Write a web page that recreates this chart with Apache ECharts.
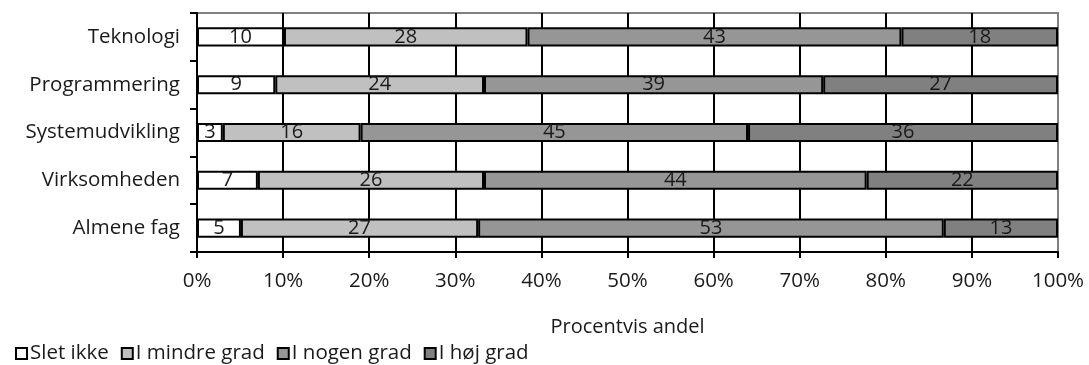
<!DOCTYPE html>
<html>
<head>
<meta charset="utf-8">
<script src="https://cdn.jsdelivr.net/npm/echarts@6/dist/echarts.min.js"></script>
<style>
  html, body { margin: 0; padding: 0; background: #fff; }
  #chart { width: 1089px; height: 365px; }
</style>
</head>
<body>
<div id="chart"></div>
<script>
// Survey answers per subject area (counts in percent, as reported)
const categories = ['Teknologi', 'Programmering', 'Systemudvikling', 'Virksomheden', 'Almene fag'];
const sletIkke     = [10, 9, 3, 7, 5];
const iMindreGrad  = [28, 24, 16, 26, 27];
const iNogenGrad   = [43, 39, 45, 44, 53];
const iHoejGrad    = [18, 27, 36, 22, 13];
const seriesNames  = ['Slet ikke', 'I mindre grad', 'I nogen grad', 'I høj grad'];
const seriesColors = ['#ffffff', '#c0c0c0', '#969696', '#808080'];
const xTicks = [0, 10, 20, 30, 40, 50, 60, 70, 80, 90, 100];

const raw = [sletIkke, iMindreGrad, iNogenGrad, iHoejGrad];
// 100% stacked: each row is scaled to its own total
const totals = categories.map((_, i) => raw.reduce((s, arr) => s + arr[i], 0));

const FONT = '"Open Sans", "DejaVu Sans", sans-serif';
const TEXT = '#1a1a1a';

const splitColors = xTicks.map((t, i) => (i === xTicks.length - 1 ? '#808080' : '#000000'));

const chart = echarts.init(document.getElementById('chart'), null, { renderer: 'canvas' });
chart.setOption({
  animation: false,
  backgroundColor: '#fff',
  textStyle: { fontFamily: FONT },
  grid: {
    left: 197, right: 31, top: 13, bottom: 113,
    show: true, borderColor: '#808080', borderWidth: 2, backgroundColor: '#fff'
  },
  legend: {
    left: 10, top: 338,
    itemWidth: 11, itemHeight: 11, itemGap: 12,
    icon: 'rect',
    textStyle: { fontFamily: FONT, fontSize: 20.5, color: TEXT, padding: [0, 0, 0, -2] },
    itemStyle: { borderColor: '#000', borderWidth: 2 },
    data: seriesNames
  },
  xAxis: {
    type: 'value',
    min: 0, max: 100, interval: 10,
    name: 'Procentvis andel',
    nameLocation: 'middle',
    nameGap: 65,
    nameTextStyle: { fontFamily: FONT, fontSize: 20, color: TEXT },
    axisLine: { show: true, lineStyle: { color: '#000', width: 2 } },
    axisTick: { show: true, length: 6, lineStyle: { color: '#000', width: 2 } },
    axisLabel: {
      margin: 19, fontFamily: FONT, fontSize: 20.5, color: TEXT,
      formatter: v => v + '%'
    },
    splitLine: { show: true, lineStyle: { color: splitColors, width: 2 } }
  },
  yAxis: {
    type: 'category',
    inverse: true,
    data: categories,
    axisLine: { show: true, lineStyle: { color: '#000', width: 2 } },
    axisTick: { show: true, length: 7, lineStyle: { color: '#000', width: 2 } },
    axisLabel: { margin: 17, fontFamily: FONT, fontSize: 20.5, color: TEXT },
    splitLine: { show: false }
  },
  series: raw.map((arr, k) => ({
    name: seriesNames[k],
    type: 'bar',
    stack: 'total',
    barCategoryGap: '60%',
    data: arr.map((v, i) => ({ value: v / totals[i] * 100 })),
    itemStyle: { color: seriesColors[k], borderColor: '#000', borderWidth: 2 },
    label: {
      show: true, position: 'inside',
      fontFamily: FONT, fontSize: 20, color: TEXT,
      formatter: p => String(arr[p.dataIndex])
    }
  }))
});
</script>
</body>
</html>
